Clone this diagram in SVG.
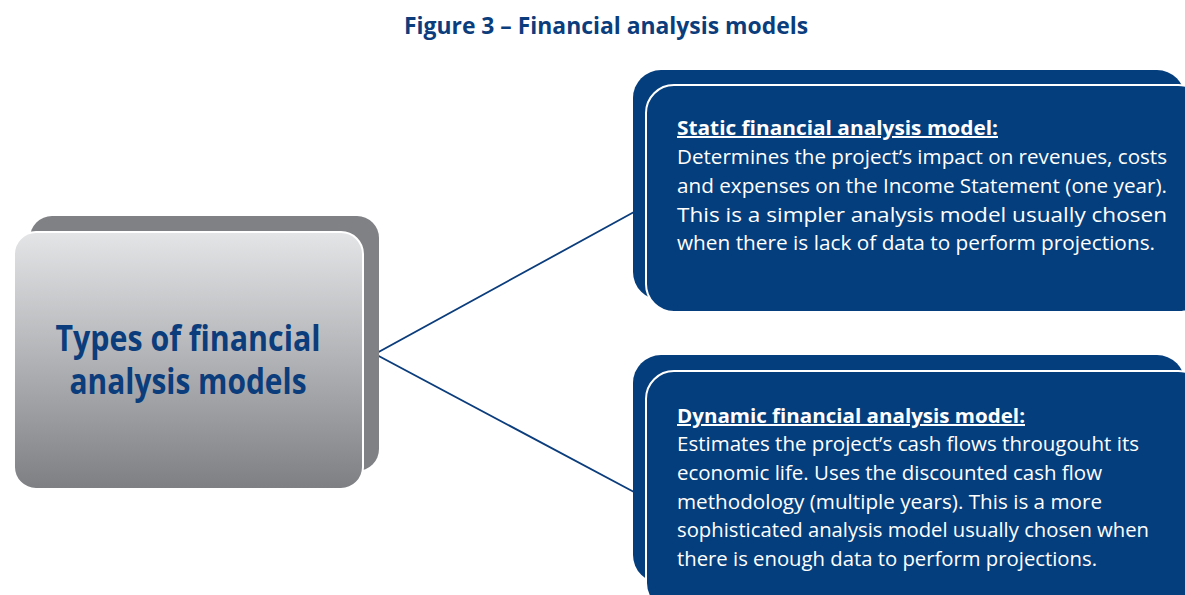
<svg xmlns="http://www.w3.org/2000/svg" width="1185" height="595" viewBox="0 0 1185 595">
  <defs>
    <linearGradient id="greyFace" x1="0" y1="0" x2="0" y2="1">
      <stop offset="0" stop-color="#e4e5e7"/>
      <stop offset="1" stop-color="#7e7f83"/>
    </linearGradient>
  </defs>
  <style>
    .title { font-family: "Open Sans", "Noto Sans", sans-serif; font-weight: bold; font-size: 23px; fill: #0b3d7c; }
    .hub { font-family: "Open Sans", "Noto Sans", sans-serif; font-weight: bold; font-size: 35px; fill: #0b3d7c; }
    .back-grey { fill: #808185; }
    .face-grey { fill: url(#greyFace); stroke: #ffffff; stroke-width: 2; }
    .back-blue { fill: #053e7c; }
    .face-blue { fill: #053e7c; stroke: #ffffff; stroke-width: 2; }
    .head { font-family: "Open Sans", "Noto Sans", sans-serif; font-weight: bold; font-size: 20px; fill: #ffffff; text-decoration: underline; }
    .body { font-family: "Open Sans", "Noto Sans", sans-serif; font-size: 20px; fill: #ffffff; }
    .link { fill: none; stroke: #0b3d7c; stroke-width: 1.8; }
  </style>

  <rect width="1185" height="595" fill="#ffffff"/>

  <text class="title" x="606" y="34" text-anchor="middle" textLength="404" lengthAdjust="spacingAndGlyphs">Figure 3 – Financial analysis models</text>

  <!-- connectors from the hub to each model -->
  <g id="connectors">
    <polyline class="link" points="634,212 375,354 634,492"/>
  </g>

  <!-- hub: types of models -->
  <g id="hub">
    <rect class="back-grey" x="30" y="216" width="349" height="255" rx="22"/>
    <rect class="face-grey" x="14" y="232" width="349" height="257" rx="22"/>
    <text class="hub" x="188" y="351" text-anchor="middle" textLength="265" lengthAdjust="spacingAndGlyphs">Types of financial</text>
    <text class="hub" x="188" y="394" text-anchor="middle" textLength="237" lengthAdjust="spacingAndGlyphs">analysis models</text>
  </g>

  <!-- static model -->
  <g id="static-model">
    <rect class="back-blue" x="633" y="70" width="552" height="230" rx="28"/>
    <rect class="face-blue" x="646" y="85" width="560" height="227" rx="28"/>
    <text class="head" x="677" y="135" textLength="321" lengthAdjust="spacingAndGlyphs">Static financial analysis model:</text>
    <text class="body" x="677" y="164" textLength="490" lengthAdjust="spacingAndGlyphs">Determines the project’s impact on revenues, costs</text>
    <text class="body" x="677" y="193" textLength="490" lengthAdjust="spacingAndGlyphs">and expenses on the Income Statement (one year).</text>
    <text class="body" x="677" y="222" textLength="490" lengthAdjust="spacingAndGlyphs">This is a simpler analysis model usually chosen</text>
    <text class="body" x="677" y="250" textLength="478" lengthAdjust="spacingAndGlyphs">when there is lack of data to perform projections.</text>
  </g>

  <!-- dynamic model -->
  <g id="dynamic-model">
    <rect class="back-blue" x="633" y="355" width="552" height="228" rx="28"/>
    <rect class="face-blue" x="646" y="371" width="560" height="240" rx="28"/>
    <text class="head" x="677" y="423" textLength="348" lengthAdjust="spacingAndGlyphs">Dynamic financial analysis model:</text>
    <text class="body" x="677" y="451" textLength="462" lengthAdjust="spacingAndGlyphs">Estimates the project’s cash flows througouht its</text>
    <text class="body" x="677" y="480" textLength="425" lengthAdjust="spacingAndGlyphs">economic life. Uses the discounted cash flow</text>
    <text class="body" x="677" y="509" textLength="425" lengthAdjust="spacingAndGlyphs">methodology (multiple years). This is a more</text>
    <text class="body" x="677" y="537" textLength="472" lengthAdjust="spacingAndGlyphs">sophisticated analysis model usually chosen when</text>
    <text class="body" x="677" y="566" textLength="420" lengthAdjust="spacingAndGlyphs">there is enough data to perform projections.</text>
  </g>
</svg>
